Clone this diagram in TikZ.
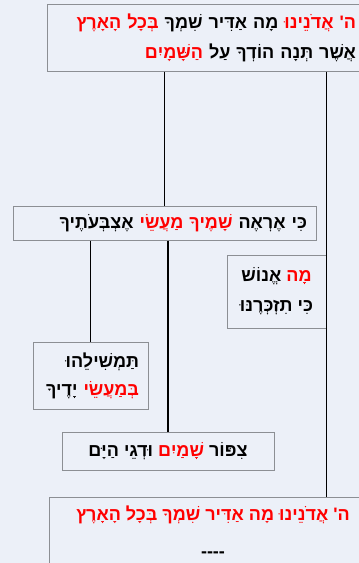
\documentclass[tikz,border=0pt]{standalone}
\usepackage{fontspec}
\usepackage{tikz}
\usetikzlibrary{calc, positioning, shadows}
\TeXXeTstate=1
\newfontfamily\hebfont[Script=Hebrew]{Liberation Sans}
\definecolor{hlred}{RGB}{255,0,0}
\definecolor{bgblue}{RGB}{236,240,248}
\definecolor{boxgray}{RGB}{140,143,148}
\newcommand{\heb}[1]{\beginR#1\endR}
\newcommand{\hebr}[1]{\textcolor{hlred}{\beginR#1\endR}}

\begin{document}
\begin{tikzpicture}[x=1pt, y=-1pt,
  box/.style={draw=boxgray, line width=1pt, fill=bgblue, inner ysep=0pt,
    drop shadow={shadow xshift=1.2pt, shadow yshift=-1.2pt, fill=black!22, opacity=1},
    font=\hebfont\bfseries\fontsize{18}{30}\selectfont},
  link/.style={line width=1.3pt, black}]
  % canvas
  \fill[bgblue] (0,0) rectangle (359,563);
  \clip (0,0) rectangle (359,563);
  % verse boxes
  \node[box, minimum height=67pt, text width=285pt, inner xsep=24pt, align=right] (praise) at (213.5,37.5)
    {\mbox{\hebr{בְּכָל הָאָרֶץ} \heb{מָה אַדִּיר שִׁמְךָ} \hebr{ה' אֲדֹנֵינוּ}}\\
     \mbox{\hebr{הַשָּׁמָיִם} \heb{אֲשֶׁר תְּנָה הוֹדְךָ עַל}}};
  \node[box, minimum height=34pt, text width=285pt, inner xsep=9pt, align=right] (heavens) at (164.5,223)
    {\mbox{\heb{אֶצְבְּעֹתֶיךָ} \hebr{שָׁמֶיךָ מַעֲשֵׂי} \heb{כִּי אֶרְאֶה}}};
  \node[box, minimum width=99pt, minimum height=73pt, align=center] (mortal) at (276.5,291.5)
    {\mbox{\heb{אֱנוֹשׁ} \hebr{מָה}}\\ \mbox{\heb{כִּי תִזְכְּרֶנּוּ}}};
  \node[box, minimum height=67pt, text width=97pt, inner xsep=9pt, align=right,
    font=\hebfont\bfseries\fontsize{18}{28}\selectfont] (dominion) at (90.5,375.5)
    {\mbox{\heb{תַּמְשִׁילֵהוּ}}\\ \mbox{\heb{יָדֶיךָ} \hebr{בְּמַעֲשֵׂי}}};
  \node[box, minimum width=212pt, minimum height=38pt] (creatures) at (168,451)
    {\mbox{\heb{וּדְגֵי הַיָּם} \hebr{שָׁמַיִם} \heb{צִפּוֹר}}};
  \node[box, minimum width=328pt, minimum height=69pt, align=center,
    font=\hebfont\bfseries\fontsize{18}{37}\selectfont] (refrain) at (213,531.5)
    {\mbox{\hebr{ה' אֲדֹנֵינוּ מָה אַדִּיר שִׁמְךָ בְּכָל הָאָרֶץ}}\\ -{}-{}-{}-};
  % connectors
  \draw[link] (heavens.north |- praise.south) -- (heavens.north);
  \draw[link] (mortal.east |- praise.south) -- (mortal.east |- refrain.north);
  \draw[link] (dominion.north |- heavens.south) -- (dominion.north);
  \draw[link] (creatures.north |- heavens.south) -- (creatures.north);
\end{tikzpicture}
\end{document}
